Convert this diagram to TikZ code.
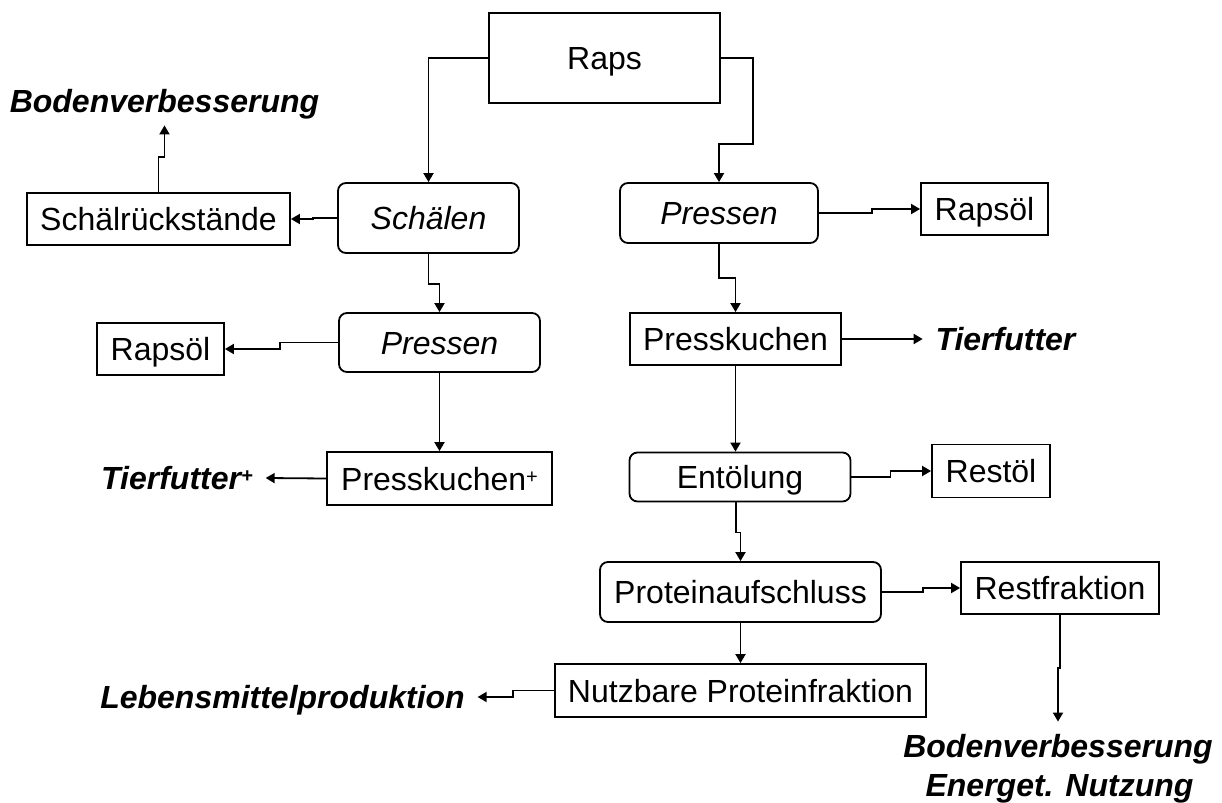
\documentclass[tikz,border=0pt]{standalone}
\usepackage{fontspec}
\setmainfont{Liberation Sans}
\usetikzlibrary{arrows.meta}
\newcommand{\supplus}{{\fontsize{10}{10}\selectfont\raisebox{3.5pt}{+}}}
\begin{document}
\begin{tikzpicture}[x=0.5pt,y=-0.5pt,line width=0.9pt,
  every node/.style={font=\fontsize{16}{19.5}\selectfont,text height=11.5pt,text depth=0pt,inner sep=0pt},
  box/.style={draw,rectangle},
  procbox/.style={draw,rectangle,rounded corners=4pt},
  outlabel/.style={inner sep=6pt,font=\fontsize{16}{19.5}\selectfont\bfseries\itshape},
  flow/.style={-{Triangle[length=4.5pt,width=5pt]}}]
\useasboundingbox (0,0) rectangle (1222,803);
\node[box,minimum width=115.5pt,minimum height=45pt] (raps) at (604.5,58) {Raps};
\node[procbox,minimum width=90.5pt,minimum height=35pt] (schaelen) at (428.5,218) {\textit{Schälen}};
\node[box,minimum width=131.5pt,minimum height=26pt] (schaelres) at (158.5,219) {Schälrückstände};
\node[outlabel] (boden1) at (164.5,101) {Bodenverbesserung};
\node[procbox,minimum width=100.5pt,minimum height=29.5pt] (pressL) at (439.5,342.5) {\textit{Pressen}};
\node[box,minimum width=63.5pt,minimum height=26pt] (rapsoelL) at (160.5,349) {Rapsöl};
\node[box,minimum width=112.5pt,minimum height=26.5pt] (kuchenL) at (439.5,478.5) {Presskuchen\supplus};
\node[outlabel] (tierL) at (177,478) {Tierfutter\supplus};
\node[procbox,minimum width=99pt,minimum height=30pt] (pressR) at (719,213) {\textit{Pressen}};
\node[box,minimum width=63.5pt,minimum height=26pt] (rapsoelR) at (984.5,209) {Rapsöl};
\node[box,minimum width=105.5pt,minimum height=26pt] (kuchenR) at (735.5,339) {Presskuchen};
\node[outlabel] (tierR) at (1005.5,339) {Tierfutter};
\node[procbox,minimum width=110.5pt,minimum height=24.5pt] (entoel) at (740,477) {Entölung};
\node[box,minimum width=59pt,minimum height=26.5pt] (restoel) at (991,471) {Restöl};
\node[procbox,minimum width=140.5pt,minimum height=30pt] (protein) at (740.5,592) {Proteinaufschluss};
\node[box,minimum width=99pt,minimum height=26pt] (restfrak) at (1060,588) {Restfraktion};
\node[box,minimum width=185.5pt,minimum height=26.5pt] (nutz) at (740.5,690.5) {Nutzbare Proteinfraktion};
\node[outlabel] (lebens) at (282.5,697) {Lebensmittelproduktion};
\node[outlabel] (boden2) at (1058,746) {Bodenverbesserung};
\node[outlabel] (energet) at (1059.5,785) {Energet. Nutzung};
\draw[flow] (raps.west) -| (schaelen.north);
\draw[flow] (raps.east) -- ++(32,0) -- ++(0,86) -| (pressR.north);
\draw[flow] (schaelen.west) -- ++(-24,0) |- (schaelres.east);
\draw[flow] (schaelres.north) -- ++(0,-35) -| (boden1.south);
\draw[flow] (schaelen.south) -- ++(0,30) -| (pressL.north);
\draw[flow] (pressL.west) -- ++(-58,0) |- (rapsoelL.east);
\draw[flow] (pressL.south) -- (kuchenL.north);
\draw[flow] (kuchenL.west) -- (tierL.east);
\draw[flow] (pressR.east) -- ++(53,0) |- (rapsoelR.west);
\draw[flow] (pressR.south) -- ++(0,34) -| (kuchenR.north);
\draw[flow] (kuchenR.east) -- (tierR.west);
\draw[flow] (kuchenR.south) -- (kuchenR.south |- entoel.north);
\draw[flow] (entoel.east) -- ++(39,0) |- (restoel.west);
\draw[flow] ([xshift=-2pt]entoel.south) -- ++(0,30) -| (protein.north);
\draw[flow] (protein.east) -- ++(41,0) |- (restfrak.west);
\draw[flow] (protein.south) -- (nutz.north);
\draw[flow] (nutz.west) -- ++(-41,0) |- (lebens.east);
\draw[flow] (restfrak.south) -- ++(0,53) -| (boden2.north);
\end{tikzpicture}
\end{document}
